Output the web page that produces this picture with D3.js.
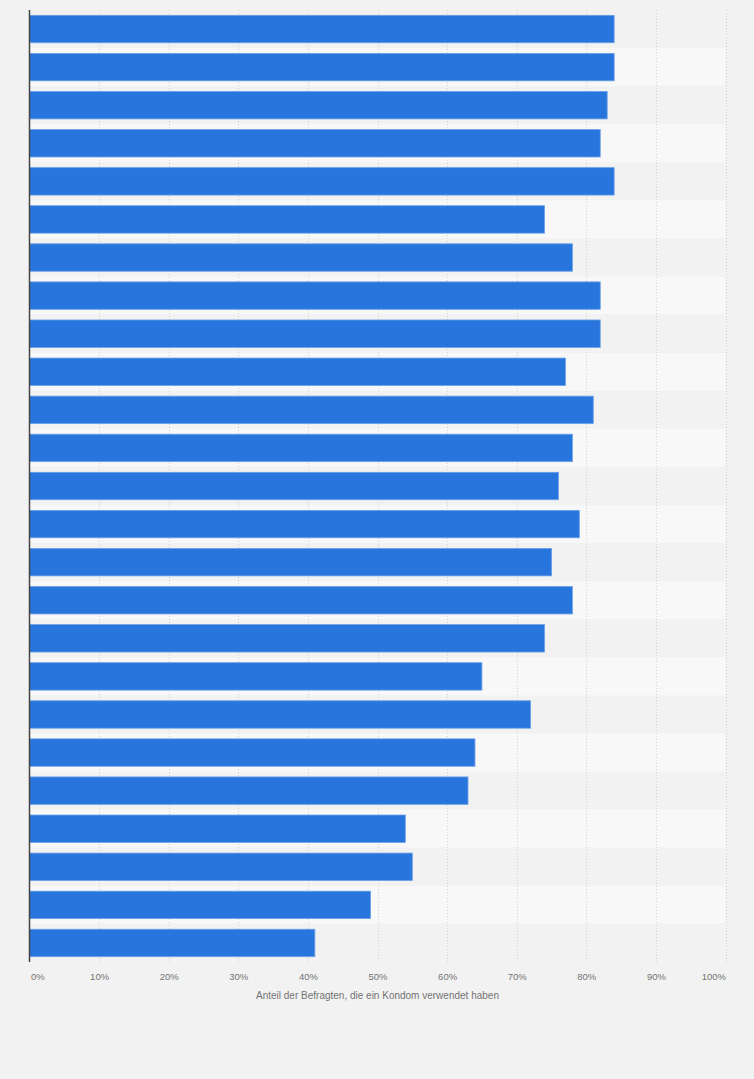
<!DOCTYPE html>
<html>
<head>
<meta charset="utf-8">
<script src="https://cdn.jsdelivr.net/npm/d3@7"></script>
<style>
  html, body { margin: 0; padding: 0; background: #f2f2f2; }
  #chart { width: 754px; height: 1079px; }
  text { font-family: "Liberation Sans", Arial, sans-serif; }
</style>
</head>
<body>
<div id="chart"></div>
<script>
// categories are not labelled in the source chart
var categories = ["c1", "c2", "c3", "c4", "c5", "c6", "c7", "c8", "c9", "c10",
    "c11", "c12", "c13", "c14", "c15", "c16", "c17", "c18", "c19", "c20",
    "c21", "c22", "c23", "c24", "c25"];
var values = [84, 84, 83, 82, 84, 74, 78, 82, 82, 77,
    81, 78, 76, 79, 75, 78, 74, 65, 72, 64,
    63, 54, 55, 49, 41];
var tickValues = [0, 10, 20, 30, 40, 50, 60, 70, 80, 90, 100];
var axisTitle = "Anteil der Befragten, die ein Kondom verwendet haben";

var width = 754, height = 1079;
var plotLeft = 29.5, plotRight = 725.5, plotTop = 10, plotBottom = 962;

var svg = d3.select("#chart").append("svg")
    .attr("width", width)
    .attr("height", height);

var x = d3.scaleLinear().domain([0, 100]).range([plotLeft, plotRight]);
var y = d3.scaleBand().domain(categories).range([plotTop, plotBottom])
    .paddingInner(0.28).paddingOuter(0.14);

// alternating row bands
var bandStep = (plotBottom - plotTop) / categories.length;
svg.append("g").selectAll("rect")
    .data(categories)
    .enter()
    .append("rect")
    .attr("x", plotLeft)
    .attr("y", function (d, i) { return plotTop + i * bandStep; })
    .attr("width", plotRight - plotLeft)
    .attr("height", bandStep)
    .style("fill", function (d, i) { return i % 2 ? "#f8f8f8" : "#f2f2f2"; });

// grid
svg.append("g").selectAll("line")
    .data(tickValues.slice(1))
    .enter()
    .append("line")
    .attr("x1", function (d) { return Math.round(x(d)) + 0.5; })
    .attr("x2", function (d) { return Math.round(x(d)) + 0.5; })
    .attr("y1", plotTop)
    .attr("y2", plotBottom)
    .style("stroke", "#d2d2d2")
    .style("stroke-width", 1)
    .style("stroke-dasharray", "1,2");

// bars
svg.append("g").selectAll("rect")
    .data(values)
    .enter()
    .append("rect")
    .attr("x", x(0))
    .attr("y", function (d, i) { return y(categories[i]); })
    .attr("width", function (d) { return x(d) - x(0); })
    .attr("height", y.bandwidth())
    .style("fill", "#2876dd")
    .style("stroke", "#6a9fe6")
    .style("stroke-width", 0.8);

// left axis line
svg.append("line")
    .attr("x1", plotLeft).attr("x2", plotLeft)
    .attr("y1", plotTop).attr("y2", plotBottom)
    .style("stroke", "#444")
    .style("stroke-width", 1.5);

// x axis tick labels
var xAxis = d3.axisBottom(x)
    .tickValues(tickValues)
    .tickSize(0)
    .tickFormat(function (d) { return d + "%"; });

var gx = svg.append("g")
    .attr("transform", "translate(0," + plotBottom + ")")
    .call(xAxis);
gx.select(".domain").remove();
gx.selectAll("text")
    .attr("y", 18)
    .attr("dy", "0")
    .style("font-size", "9.5px")
    .style("fill", "#737373")
    .attr("text-anchor", function (d) {
        if (d === 0) return "start";
        if (d === 100) return "end";
        return "middle";
    })
    .attr("dx", function (d) { return d === 0 ? 1 : 0; });

svg.append("text")
    .attr("x", x(50))
    .attr("y", 999)
    .attr("text-anchor", "middle")
    .style("font-size", "10px")
    .style("fill", "#737373")
    .text(axisTitle);
</script>
</body>
</html>
